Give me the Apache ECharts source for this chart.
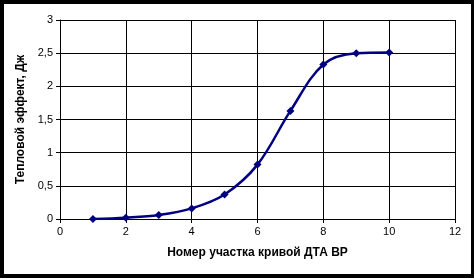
<!DOCTYPE html>
<html>
<head>
<meta charset="utf-8">
<script src="https://cdn.jsdelivr.net/npm/echarts@6/dist/echarts.min.js"></script>
<style>
html,body{margin:0;padding:0;background:#fff;}
#c{width:474px;height:278px;}
</style>
</head>
<body>
<div id="c"></div>
<script>
var xValues = [1, 2, 3, 4, 5, 6, 7, 8, 9, 10];
var yValues = [0.0, 0.02, 0.06, 0.16, 0.37, 0.82, 1.63, 2.33, 2.5, 2.51];
var xTitle = 'Номер участка кривой ДТА ВР';
var yTitle = 'Тепловой эффект, Дж';

var seriesData = xValues.map(function (x, i) { return [x, yValues[i]]; });
var font = '"Liberation Sans", Arial, sans-serif';

var chart = echarts.init(document.getElementById('c'), null, {renderer: 'canvas'});
chart.setOption({
  animation: false,
  backgroundColor: '#fff',
  grid: {left: 60, right: 19, top: 20, bottom: 59, containLabel: false},
  xAxis: {
    type: 'value', min: 0, max: 12, interval: 2,
    name: xTitle, nameLocation: 'middle', nameGap: 28,
    nameTextStyle: {fontFamily: font, fontSize: 12, fontWeight: 'bold', color: '#000'},
    axisLine: {show: true, lineStyle: {color: '#000', width: 1}},
    axisTick: {show: true, inside: false, length: 4, lineStyle: {color: '#000'}},
    axisLabel: {fontFamily: font, fontSize: 11, color: '#000', margin: 7},
    splitLine: {show: true, lineStyle: {color: '#000', width: 1}}
  },
  yAxis: {
    type: 'value', min: 0, max: 3, interval: 0.5,
    name: yTitle, nameLocation: 'middle', nameGap: 31, nameRotate: 90,
    nameTextStyle: {fontFamily: font, fontSize: 12, fontWeight: 'bold', color: '#000'},
    axisLine: {show: true, lineStyle: {color: '#000', width: 1}},
    axisTick: {show: true, inside: false, length: 4, lineStyle: {color: '#000'}},
    axisLabel: {fontFamily: font, fontSize: 11, color: '#000', margin: 7,
      formatter: function (v) { return String(v).replace('.', ','); }},
    splitLine: {show: true, lineStyle: {color: '#000', width: 1}}
  },
  graphic: [
    {type: 'rect', left: 0, top: 0, shape: {width: 4, height: 278}, style: {fill: '#000'}, z: 100},
    {type: 'rect', left: 0, top: 0, shape: {width: 474, height: 4}, style: {fill: '#000'}, z: 100},
    {type: 'rect', left: 471, top: 0, shape: {width: 3, height: 278}, style: {fill: '#000'}, z: 100},
    {type: 'rect', left: 0, top: 274, shape: {width: 474, height: 4}, style: {fill: '#000'}, z: 100}
  ],
  series: [{
    type: 'line',
    data: seriesData,
    smooth: 0.35,
    symbol: 'diamond',
    symbolSize: 8,
    lineStyle: {color: '#000080', width: 2.5},
    itemStyle: {color: '#000080'}
  }]
});
</script>
</body>
</html>
